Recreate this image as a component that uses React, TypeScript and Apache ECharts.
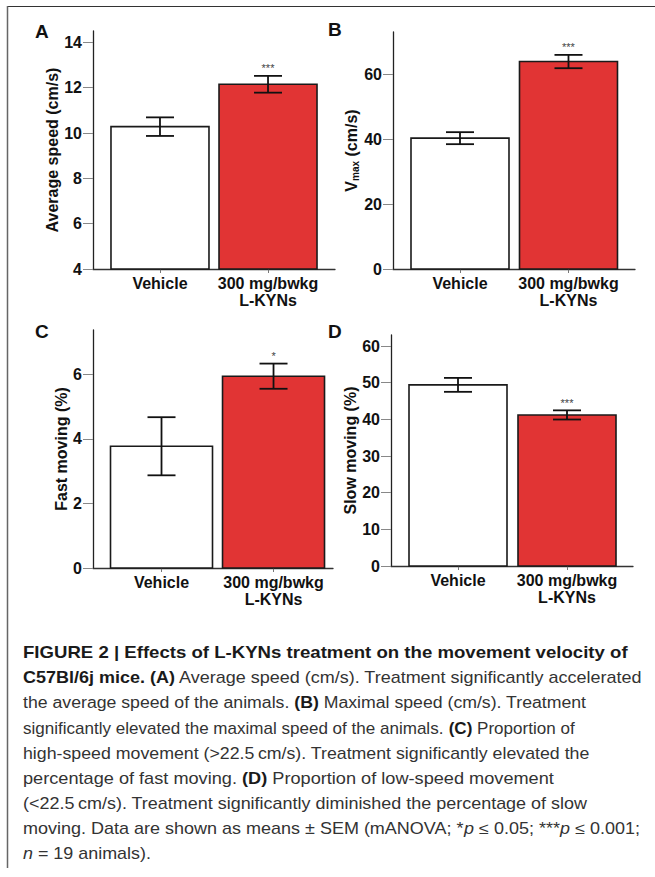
import React, { useEffect, useRef } from 'react';
import * as echarts from 'echarts';

// ---------- data ----------
const categories = ['Vehicle', '300 mg/bwkg\nL-KYNs'];
const barColors = ['#ffffff', '#e13434'];

const avgSpeedMean = [10.28, 12.15];
const avgSpeedSem = [0.41, 0.37];
const avgSpeedSig = ['', '***'];
const avgSpeedTicks = [4, 6, 8, 10, 12, 14];

const vmaxMean = [40.3, 63.9];
const vmaxSem = [1.85, 2.05];
const vmaxSig = ['', '***'];
const vmaxTicks = [0, 20, 40, 60];

const fastMean = [3.77, 5.94];
const fastSem = [0.9, 0.39];
const fastSig = ['', '*'];
const fastTicks = [0, 2, 4, 6];

const slowMean = [49.4, 41.2];
const slowSem = [1.9, 1.25];
const slowSig = ['', '***'];
const slowTicks = [0, 10, 20, 30, 40, 50, 60];

const panelLetters = ['A', 'B', 'C', 'D'];
const yNames = [
  'Average speed (cm/s)',
  '{a|V}{s|max}{a| (cm/s)}',
  'Fast moving (%)',
  'Slow moving (%)',
];

const captionLines = [
  '{b|FIGURE 2 | Effects of L-KYNs treatment on the movement velocity of}',
  '{b|C57Bl/6j mice. (A)}{r| Average speed (cm/s). Treatment significantly accelerated}',
  '{r|the average speed of the animals. }{b|(B)}{r| Maximal speed (cm/s). Treatment}',
  '{r|significantly elevated the maximal speed of the animals. }{b|(C)}{r| Proportion of}',
  '{r|high-speed movement (>22.5\u2009cm/s). Treatment significantly elevated the}',
  '{r|percentage of fast moving. }{b|(D)}{r| Proportion of low-speed movement}',
  '{r|(<22.5\u2009cm/s). Treatment significantly diminished the percentage of slow}',
  '{r|moving. Data are shown as means \u00b1 SEM (mANOVA; *}{i|p}{r| \u2264 0.05; ***}{i|p}{r| \u2264 0.001;}',
  '{i|n}{r| = 19 animals).}',
];

// ---------- layout ----------
const FONT = '"Liberation Sans", Arial, Helvetica, sans-serif';
const CAP_FONT = '"Liberation Sans", Arial, Helvetica, sans-serif';
const captionScale = [1.163, 1.125, 1.105, 1.066, 1.11, 1.135, 1.123, 1.126, 1.12];

const panels = [
  { mean: avgSpeedMean, sem: avgSpeedSem, sig: avgSpeedSig, ticks: avgSpeedTicks, yMin: 4, yMax: 14.5,
    grid: { left: 93, top: 31, width: 242, height: 238 }, xMin: -0.62, xMax: 1.62, barW: 98, nameGap: 32,
    letter: [42, 31.5] },
  { mean: vmaxMean, sem: vmaxSem, sig: vmaxSig, ticks: vmaxTicks, yMin: 0, yMax: 73,
    grid: { left: 393, top: 32, width: 242, height: 237 }, xMin: -0.6175, xMax: 1.613, barW: 98, nameGap: 33,
    letter: [335, 29.5] },
  { mean: fastMean, sem: fastSem, sig: fastSig, ticks: fastTicks, yMin: 0, yMax: 7.37,
    grid: { left: 93, top: 330, width: 240, height: 238 }, xMin: -0.6116, xMax: 1.531, barW: 102, nameGap: 22,
    letter: [42, 332] },
  { mean: slowMean, sem: slowSem, sig: slowSig, ticks: slowTicks, yMin: 0, yMax: 63,
    grid: { left: 391, top: 335, width: 242, height: 231 }, xMin: -0.6147, xMax: 1.6055, barW: 98, nameGap: 33,
    letter: [335, 332] },
];

function buildOption() {
  const grid: any[] = [];
  const xAxis: any[] = [];
  const yAxis: any[] = [];
  const series: any[] = [];
  const graphic: any[] = [];

  panels.forEach((p, k) => {
    grid.push({ ...p.grid, containLabel: false });
    xAxis.push({
      type: 'value', gridIndex: k, min: p.xMin, max: p.xMax,
      splitLine: { show: false },
      axisLine: { show: true, onZero: false, lineStyle: { color: '#333', width: 1.3 } },
      axisTick: { show: true, customValues: [0, 1], length: 4, lineStyle: { color: '#777', width: 1 } },
      axisLabel: {
        customValues: [0, 1],
        formatter: (v: number) => categories[Math.round(v)] ?? '',
        fontFamily: FONT, fontWeight: 'bold', fontSize: 16, lineHeight: 17, color: '#111', margin: 6,
      },
    });
    yAxis.push({
      type: 'value', gridIndex: k, min: p.yMin, max: p.yMax,
      splitLine: { show: false },
      axisLine: { show: true, onZero: false, lineStyle: { color: '#222', width: 1.3 } },
      axisTick: { show: true, customValues: p.ticks, length: 10, lineStyle: { color: '#888', width: 1 } },
      axisLabel: {
        customValues: p.ticks, fontFamily: FONT, fontWeight: 'bold', fontSize: 16, color: '#111', margin: 11,
      },
      name: yNames[k], nameLocation: 'middle', nameGap: p.nameGap, nameRotate: 90,
      nameTextStyle: {
        fontFamily: FONT, fontWeight: 'bold', fontSize: 16, color: '#111',
        rich: {
          a: { fontFamily: FONT, fontWeight: 'bold', fontSize: 16, color: '#111', lineHeight: 18 },
          s: { fontFamily: FONT, fontWeight: 'bold', fontSize: 10, color: '#111', verticalAlign: 'bottom', lineHeight: 18, padding: [6, 0, 0, 0] },
        },
      },
    });
    const yMin = p.yMin;
    const barW = p.barW;
    const sig = p.sig;
    series.push({
      type: 'custom', xAxisIndex: k, yAxisIndex: k,
      data: p.mean.map((m, i) => [i, m, p.sem[i]]),
      renderItem: (params: any, api: any) => {
        const i = api.value(0);
        const m = api.value(1);
        const s = api.value(2);
        const top = api.coord([i, m]);
        const base = api.coord([i, yMin]);
        const hi = api.coord([i, m + s]);
        const lo = api.coord([i, m - s]);
        const cx = top[0];
        const cap = 14;
        const ls = { stroke: '#111', lineWidth: 1.8 };
        const children: any[] = [
          { type: 'rect', shape: { x: cx - barW / 2, y: top[1], width: barW, height: base[1] - top[1] },
            style: { fill: barColors[i], stroke: '#1a1a1a', lineWidth: 1.6 } },
          { type: 'line', shape: { x1: cx, y1: hi[1], x2: cx, y2: lo[1] }, style: ls },
          { type: 'line', shape: { x1: cx - cap, y1: hi[1], x2: cx + cap, y2: hi[1] }, style: ls },
          { type: 'line', shape: { x1: cx - cap, y1: lo[1], x2: cx + cap, y2: lo[1] }, style: ls },
        ];
        if (sig[params.dataIndex]) {
          children.push({ type: 'text', style: { text: sig[params.dataIndex], x: cx, y: hi[1] - 2,
            align: 'center', verticalAlign: 'bottom', fontFamily: FONT, fontSize: 11, fill: '#444' } });
        }
        return { type: 'group', children };
      },
    });
    graphic.push({ type: 'text', left: p.letter[0] - 7, top: p.letter[1] - 10,
      style: { text: panelLetters[k], fontFamily: FONT, fontWeight: 'bold', fontSize: 19, fill: '#111' } });
  });

  // frame
  graphic.push({ type: 'line', shape: { x1: 7, y1: 6.5, x2: 655, y2: 6.5 }, style: { stroke: '#333', lineWidth: 1 } });
  graphic.push({ type: 'line', shape: { x1: 7.5, y1: 6, x2: 7.5, y2: 868 }, style: { stroke: '#666', lineWidth: 1.5 } });

  // caption
  const rich = {
    b: { fontFamily: CAP_FONT, fontWeight: 'bold', fontSize: 16, fill: '#1a1a1a' },
    r: { fontFamily: CAP_FONT, fontWeight: 'normal', fontSize: 16, fill: '#333' },
    i: { fontFamily: CAP_FONT, fontStyle: 'italic', fontSize: 16, fill: '#333' },
  };
  captionLines.forEach((line, j) => {
    graphic.push({ type: 'text', x: 23, y: 652.7 + 25.2 * j, scaleX: captionScale[j],
      style: { text: line, rich, fontFamily: CAP_FONT, fontSize: 16, verticalAlign: 'middle', align: 'left' } });
  });

  return { animation: false, backgroundColor: '#ffffff', grid, xAxis, yAxis, series, graphic };
}

export default function App() {
  const ref = useRef<HTMLDivElement>(null);
  useEffect(() => {
    if (!ref.current) return;
    const chart = echarts.init(ref.current, undefined, { renderer: 'svg' });
    chart.setOption(buildOption() as any);
    return () => chart.dispose();
  }, []);
  return <div ref={ref} style={{ position: 'absolute', left: 0, top: 0, width: 655, height: 877, background: '#fff' }} />;
}
